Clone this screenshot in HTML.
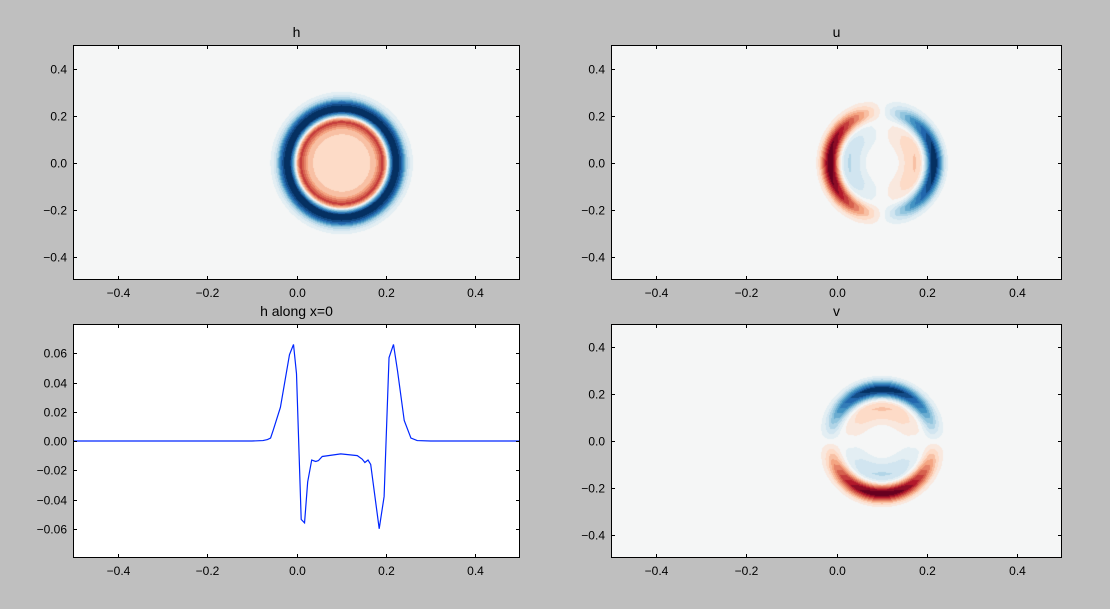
<!DOCTYPE html>
<html><head><meta charset="utf-8">
<style>
html,body{margin:0;padding:0;background:#bfbfbf;}
#wrap{position:relative;width:1110px;height:609px;overflow:hidden;font-family:"Liberation Sans",sans-serif;}
canvas{position:absolute;}
svg{position:absolute;left:0;top:0;}
</style></head>
<body>
<div id="wrap">
<canvas id="cH"></canvas>
<canvas id="cU"></canvas>
<canvas id="cV"></canvas>
<svg id="svg" width="1110" height="609"></svg>
</div>
<script>
// line chart data: h along x=0
const lineX=[-0.5,-0.1,-0.075,-0.065,-0.058,-0.052,-0.036,-0.0157,-0.0067,0,0.0105,0.018,0.025,0.034,0.043,0.049,0.0576,0.099,0.136,0.147,0.153,0.160,0.166,0.185,0.196,0.207,0.217,0.226,0.241,0.256,0.27,0.3,0.5];
const lineY=[0,0,0.0003,0.001,0.002,0.0075,0.023,0.059,0.066,0.046,-0.0536,-0.056,-0.028,-0.013,-0.014,-0.0134,-0.0106,-0.0088,-0.010,-0.0124,-0.0147,-0.013,-0.016,-0.060,-0.038,0.057,0.066,0.048,0.014,0.002,0.0003,0,0];
const xTicks=[-0.4,-0.2,0.0,0.2,0.4];
const yTicks2d=[-0.4,-0.2,0.0,0.2,0.4];
const yTicksLine=[-0.06,-0.04,-0.02,0.00,0.02,0.04,0.06];
// radial profiles for fields
const hR=[0,0.04,0.06,0.075,0.085,0.092,0.1,0.106,0.115,0.125,0.135,0.145,0.155,0.165];
const hV=[-0.011,-0.011,-0.014,-0.02,-0.035,-0.045,-0.02,0.02,0.06,0.066,0.05,0.02,0.006,0];
const gR=[0,0.03,0.045,0.06,0.075,0.085,0.092,0.1,0.11,0.12,0.13,0.14,0.15];
const gV=[0,0,-0.1,-0.22,-0.25,-0.18,0,0.4,0.9,1.0,0.6,0.2,0];

const panels={
 h:{x:73,y:45,w:447,h:235,ylim:[-0.5,0.5]},
 u:{x:611,y:45,w:451,h:235,ylim:[-0.5,0.5]},
 l:{x:73,y:324,w:447,h:234,ylim:[-0.08,0.08]},
 v:{x:611,y:324,w:451,h:234,ylim:[-0.5,0.5]}
};
const NS='http://www.w3.org/2000/svg';
const svg=document.getElementById('svg');
function el(t,a){const e=document.createElementNS(NS,t);for(const k in a)e.setAttribute(k,a[k]);svg.appendChild(e);return e;}
function sx(p,v){return p.x+(v+0.5)*p.w;}
function sy(p,v){return p.y+p.h*(p.ylim[1]-v)/(p.ylim[1]-p.ylim[0]);}
function interp(xs,ys,x){if(x<=xs[0])return ys[0];for(let i=1;i<xs.length;i++){if(x<=xs[i]){const t=(x-xs[i-1])/(xs[i]-xs[i-1]);return ys[i-1]+t*(ys[i]-ys[i-1]);}}return ys[ys.length-1];}
const cm=[[103,0,31],[178,24,43],[214,96,77],[244,165,130],[253,219,199],[245,246,246],[209,229,240],[146,197,222],[67,147,195],[33,102,172],[5,48,97]];
function cmap(t){t=Math.max(0,Math.min(0.9999,t));const f=t*10,i=Math.floor(f),r=f-i;const a=cm[i],b=cm[i+1];return [a[0]+(b[0]-a[0])*r,a[1]+(b[1]-a[1])*r,a[2]+(b[2]-a[2])*r];}
function quant(t){const n=21;return Math.min(n-1,Math.floor(t*n))/(n-1);}
function field(id,p,fn){
 const c=document.getElementById(id);c.width=p.w;c.height=p.h;c.style.left=p.x+'px';c.style.top=p.y+'px';
 const ctx=c.getContext('2d');const img=ctx.createImageData(p.w,p.h);
 const cx=(0.1+0.5)*p.w, cy=p.h/2;
 for(let j=0;j<p.h;j++)for(let i=0;i<p.w;i++){
  const dx=(i-cx)/446,dy=(cy-j)/446;const r=Math.sqrt(dx*dx+dy*dy);
  const t=quant(fn(r,dx,dy));const col=cmap(t);const k=(j*p.w+i)*4;
  img.data[k]=col[0];img.data[k+1]=col[1];img.data[k+2]=col[2];img.data[k+3]=255;}
 ctx.putImageData(img,0,0);
}
field('cH',panels.h,(r)=>0.5+interp(hR,hV,r)/0.066/2);
field('cU',panels.u,(r,dx,dy)=>{const g=interp(gR,gV,r);const c=r>0?dx/r:0;return 0.5+g*c/2;});
field('cV',panels.v,(r,dx,dy)=>{const g=interp(gR,gV,r);const s=r>0?dy/r:0;return 0.5+g*s/2;});
const lp=panels.l;
el('rect',{x:lp.x,y:lp.y,width:lp.w,height:lp.h,fill:'#fff'});
// line
let d='';
for(let i=0;i<lineX.length;i++){d+=(i?'L':'M')+sx(lp,lineX[i]).toFixed(2)+' '+sy(lp,lineY[i]).toFixed(2);}
const ln=el('path',{d:d,fill:'none',stroke:'#0026ff','stroke-width':1.2});


const titles={h:'h',u:'u',l:'h along x=0',v:'v'};
for(const key in panels){
 const p=panels[key];
 const fr=el('rect',{x:p.x+0.5,y:p.y+0.5,width:p.w-1,height:p.h-1,fill:'none',stroke:'#000','stroke-width':1});
 
 
 const tt=el('text',{x:p.x+p.w/2,y:p.y-8,'text-anchor':'middle','font-size':14,fill:'#000'});
 tt.textContent=titles[key];
 
 
 xTicks.forEach(v=>{const X=Math.round(sx(p,v))+0.5;
  el('line',{x1:X,x2:X,y1:p.y+p.h,y2:p.y+p.h-4,stroke:'#000'});
  el('line',{x1:X,x2:X,y1:p.y,y2:p.y+4,stroke:'#000'});
  const t=el('text',{x:X,y:p.y+p.h+17,'text-anchor':'middle','font-size':12,fill:'#000'});
  t.textContent=v.toFixed(1).replace('-','\u2212');
  
  });
 const yt=key==='l'?yTicksLine:yTicks2d;
 yt.forEach(v=>{const Y=Math.round(sy(p,v))+0.5;
  el('line',{x1:p.x,x2:p.x+4,y1:Y,y2:Y,stroke:'#000'});
  el('line',{x1:p.x+p.w,x2:p.x+p.w-4,y1:Y,y2:Y,stroke:'#000'});
  const t=el('text',{x:p.x-6,y:Y+4,'text-anchor':'end','font-size':12,fill:'#000'});
  t.textContent=v.toFixed(key==='l'?2:1).replace('-','\u2212');
  
  });
}
</script>
</body></html>
